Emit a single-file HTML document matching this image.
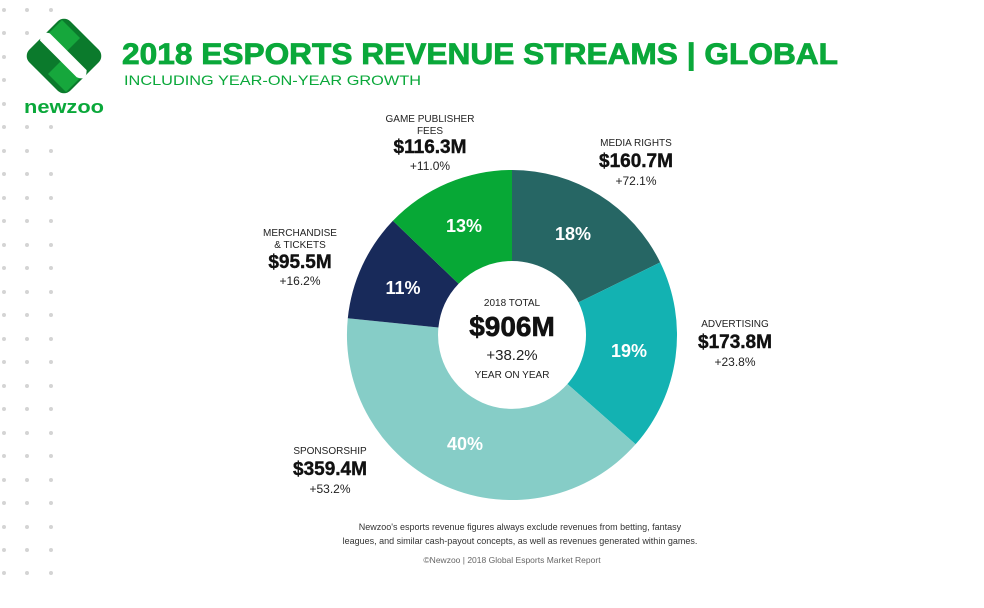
<!DOCTYPE html>
<html><head><meta charset="utf-8"><style>
html,body{margin:0;padding:0;background:#fff;width:984px;height:608px;overflow:hidden}
svg{display:block}
text{font-family:"Liberation Sans",sans-serif}
</style></head><body>
<svg width="984" height="608" viewBox="0 0 984 608" xmlns="http://www.w3.org/2000/svg">
<g fill="#d4d4d4">
<circle cx="4" cy="10" r="2"/><circle cx="27" cy="10" r="2"/><circle cx="51" cy="10" r="2"/>
<circle cx="4" cy="33" r="2"/><circle cx="27" cy="33" r="2"/>
<circle cx="4" cy="57" r="2"/><circle cx="4" cy="80" r="2"/><circle cx="4" cy="104" r="2"/>
<circle cx="4" cy="127" r="2"/><circle cx="27" cy="127" r="2"/><circle cx="51" cy="127" r="2"/>
<circle cx="4" cy="151" r="2"/><circle cx="27" cy="151" r="2"/><circle cx="51" cy="151" r="2"/>
<circle cx="4" cy="174" r="2"/><circle cx="27" cy="174" r="2"/><circle cx="51" cy="174" r="2"/>
<circle cx="4" cy="198" r="2"/><circle cx="27" cy="198" r="2"/><circle cx="51" cy="198" r="2"/>
<circle cx="4" cy="221" r="2"/><circle cx="27" cy="221" r="2"/><circle cx="51" cy="221" r="2"/>
<circle cx="4" cy="245" r="2"/><circle cx="27" cy="245" r="2"/><circle cx="51" cy="245" r="2"/>
<circle cx="4" cy="268" r="2"/><circle cx="27" cy="268" r="2"/><circle cx="51" cy="268" r="2"/>
<circle cx="4" cy="292" r="2"/><circle cx="27" cy="292" r="2"/><circle cx="51" cy="292" r="2"/>
<circle cx="4" cy="315" r="2"/><circle cx="27" cy="315" r="2"/><circle cx="51" cy="315" r="2"/>
<circle cx="4" cy="339" r="2"/><circle cx="27" cy="339" r="2"/><circle cx="51" cy="339" r="2"/>
<circle cx="4" cy="362" r="2"/><circle cx="27" cy="362" r="2"/><circle cx="51" cy="362" r="2"/>
<circle cx="4" cy="386" r="2"/><circle cx="27" cy="386" r="2"/><circle cx="51" cy="386" r="2"/>
<circle cx="4" cy="409" r="2"/><circle cx="27" cy="409" r="2"/><circle cx="51" cy="409" r="2"/>
<circle cx="4" cy="433" r="2"/><circle cx="27" cy="433" r="2"/><circle cx="51" cy="433" r="2"/>
<circle cx="4" cy="456" r="2"/><circle cx="27" cy="456" r="2"/><circle cx="51" cy="456" r="2"/>
<circle cx="4" cy="480" r="2"/><circle cx="27" cy="480" r="2"/><circle cx="51" cy="480" r="2"/>
<circle cx="4" cy="503" r="2"/><circle cx="27" cy="503" r="2"/><circle cx="51" cy="503" r="2"/>
<circle cx="4" cy="527" r="2"/><circle cx="27" cy="527" r="2"/><circle cx="51" cy="527" r="2"/>
<circle cx="4" cy="550" r="2"/><circle cx="27" cy="550" r="2"/><circle cx="51" cy="550" r="2"/>
<circle cx="4" cy="573" r="2"/><circle cx="27" cy="573" r="2"/><circle cx="51" cy="573" r="2"/>
</g>
<g transform="translate(64,56) rotate(45)">
<rect x="-29" y="-29" width="58" height="58" rx="9" fill="#0b7a2c"/>
</g>
<path d="M44 38 L62 20 L80 38 L62 56 Z" fill="#16a73c"/>
<path d="M48 74 L66 56 L84 74 L66 92 Z" fill="#16a73c"/>
<path d="M58 28 Q66 22 70 30 L70 82 Q62 90 58 80 Z" fill="#fff" transform="rotate(-45 64 56)"/>
<text x="64" y="113" text-anchor="middle" font-size="18" font-weight="bold" fill="#0aa83a" textLength="80" lengthAdjust="spacingAndGlyphs">newzoo</text>
<text x="122" y="64" font-size="30" font-weight="bold" fill="#0aa83a" stroke="#0aa83a" stroke-width="0.8" textLength="716" lengthAdjust="spacingAndGlyphs">2018 ESPORTS REVENUE STREAMS | GLOBAL</text>
<text x="124" y="85" font-size="14" fill="#0aa83a" textLength="297" lengthAdjust="spacingAndGlyphs">INCLUDING YEAR-ON-YEAR GROWTH</text>
<path d="M512 170 A165 165 0 0 1 660.2 262.4 L578.5 302.4 A74 74 0 0 0 512 261 Z" fill="#266664"/>
<path d="M660.2 262.4 A165 165 0 0 1 635.6 444.3 L567.4 384 A74 74 0 0 0 578.5 302.4 Z" fill="#13b2b2"/>
<path d="M635.6 444.3 A165 165 0 0 1 347.8 318.3 L438.4 327.5 A74 74 0 0 0 567.4 384 Z" fill="#86cdc7"/>
<path d="M347.8 318.3 A165 165 0 0 1 392.9 220.8 L458.6 283.8 A74 74 0 0 0 438.4 327.5 Z" fill="#182a5a"/>
<path d="M392.9 220.8 A165 165 0 0 1 512 170 L512 261 A74 74 0 0 0 458.6 283.8 Z" fill="#07a836"/>
<g font-size="18" font-weight="bold" fill="#fff" text-anchor="middle">
<text x="573" y="240">18%</text>
<text x="629" y="357">19%</text>
<text x="465" y="450">40%</text>
<text x="403" y="294">11%</text>
<text x="464" y="232">13%</text>
</g>
<g text-anchor="middle" fill="#222">
<text x="512" y="306" font-size="10">2018 TOTAL</text>
<text x="512" y="336" font-size="28" font-weight="bold" fill="#111" stroke="#111" stroke-width="0.6">$906M</text>
<text x="512" y="360" font-size="15">+38.2%</text>
<text x="512" y="378" font-size="10">YEAR ON YEAR</text>
</g>
<g text-anchor="middle" fill="#222">
<text x="430" y="122" font-size="10">GAME PUBLISHER</text>
<text x="430" y="134" font-size="10">FEES</text>
<text x="430" y="153" font-size="19" font-weight="bold" fill="#111" stroke="#111" stroke-width="0.4">$116.3M</text>
<text x="430" y="170" font-size="12">+11.0%</text>
<text x="636" y="146" font-size="10">MEDIA RIGHTS</text>
<text x="636" y="167" font-size="19" font-weight="bold" fill="#111" stroke="#111" stroke-width="0.4">$160.7M</text>
<text x="636" y="185" font-size="12">+72.1%</text>
<text x="300" y="236" font-size="10">MERCHANDISE</text>
<text x="300" y="248" font-size="10">&amp; TICKETS</text>
<text x="300" y="268" font-size="19" font-weight="bold" fill="#111" stroke="#111" stroke-width="0.4">$95.5M</text>
<text x="300" y="285" font-size="12">+16.2%</text>
<text x="735" y="327" font-size="10">ADVERTISING</text>
<text x="735" y="348" font-size="19" font-weight="bold" fill="#111" stroke="#111" stroke-width="0.4">$173.8M</text>
<text x="735" y="366" font-size="12">+23.8%</text>
<text x="330" y="454" font-size="10">SPONSORSHIP</text>
<text x="330" y="475" font-size="19" font-weight="bold" fill="#111" stroke="#111" stroke-width="0.4">$359.4M</text>
<text x="330" y="493" font-size="12">+53.2%</text>
</g>
<g text-anchor="middle" fill="#333" font-size="9">
<text x="520" y="530">Newzoo's esports revenue figures always exclude revenues from betting, fantasy</text>
<text x="520" y="544">leagues, and similar cash-payout concepts, as well as revenues generated within games.</text>
<text x="512" y="563" fill="#666" font-size="8.5">©Newzoo | 2018 Global Esports Market Report</text>
</g>
</svg>
</body></html>
